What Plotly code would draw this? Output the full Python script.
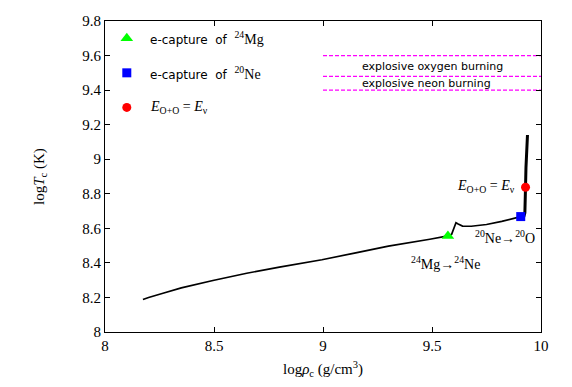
import plotly.graph_objects as go

# Evolution track: log rho_c vs log T_c
track_rho = [8.174, 8.20, 8.266, 8.35, 8.495, 8.65, 8.80, 8.995, 9.15, 9.30, 9.49, 9.573]
track_T = [8.188, 8.200, 8.224, 8.255, 8.298, 8.340, 8.376, 8.418, 8.458, 8.497, 8.537, 8.556]
post_rho = [9.573, 9.590, 9.600, 9.610, 9.620, 9.640, 9.680, 9.750, 9.820, 9.870, 9.907]
post_T = [8.556, 8.565, 8.600, 8.632, 8.625, 8.613, 8.612, 8.622, 8.640, 8.655, 8.668]
vert_rho = [9.907, 9.922, 9.926, 9.928, 9.929, 9.931, 9.934, 9.937, 9.938]
vert_T = [8.668, 8.672, 8.690, 8.740, 8.838, 8.95, 9.03, 9.10, 9.140]

# key events
mg_rho, mg_T = 9.573, 8.556
ne_rho, ne_T = 9.907, 8.668
oo_rho, oo_T = 9.929, 8.838

# explosive burning thresholds
burn_levels = [9.60, 9.48, 9.40]
burn_x = [9.0, 10.0]

x_ticks = [8, 8.5, 9, 9.5, 10]
x_labels = ["8", "8.5", "9", "9.5", "10"]
y_ticks = [8, 8.2, 8.4, 8.6, 8.8, 9, 9.2, 9.4, 9.6, 9.8]
y_labels = ["8", "8.2", "8.4", "8.6", "8.8", "9", "9.2", "9.4", "9.6", "9.8"]

legend_rho = 8.10
legend_T = [9.70, 9.50, 9.30]

SERIF = "Liberation Serif"
SANS = "DejaVu Sans"

fig = go.Figure()

for lvl in burn_levels:
    fig.add_trace(go.Scatter(x=burn_x, y=[lvl, lvl], mode="lines",
                             line=dict(color="#ff00ff", width=1.3, dash="4px,2px"),
                             showlegend=False, hoverinfo="skip"))

fig.add_trace(go.Scatter(x=track_rho + post_rho[1:], y=track_T + post_T[1:], mode="lines",
                         line=dict(color="black", width=1.7), showlegend=False))
fig.add_trace(go.Scatter(x=vert_rho, y=vert_T, mode="lines",
                         line=dict(color="black", width=3), showlegend=False))

fig.add_trace(go.Scatter(x=[mg_rho, legend_rho], y=[mg_T, legend_T[0]], mode="markers",
                         marker=dict(symbol="triangle-up", color="#00ff00", size=11),
                         showlegend=False))
fig.add_trace(go.Scatter(x=[ne_rho, legend_rho], y=[ne_T, legend_T[1]], mode="markers",
                         marker=dict(symbol="square", color="#0000ff", size=9),
                         showlegend=False))
fig.add_trace(go.Scatter(x=[oo_rho, legend_rho], y=[oo_T, legend_T[2]], mode="markers",
                         marker=dict(symbol="circle", color="#ff0000", size=9),
                         showlegend=False))

serif_span = '<span style="font-family:Liberation Serif;font-size:14px">{}</span>'
annotations = [
    dict(x=8.197, y=legend_T[0], xanchor="left",
         text="e-capture  of  " + serif_span.format("<sup>24</sup>Mg"),
         font=dict(family=SANS, size=12)),
    dict(x=8.197, y=legend_T[1], xanchor="left",
         text="e-capture  of  " + serif_span.format("<sup>20</sup>Ne"),
         font=dict(family=SANS, size=12)),
    dict(x=8.197, y=legend_T[2], xanchor="left",
         text="<i>E</i><sub>O+O</sub> = <i>E</i><sub>ν</sub>",
         font=dict(family=SERIF, size=14)),
    dict(x=9.5, y=9.537, xanchor="center", text="explosive oxygen burning",
         font=dict(family=SANS, size=11)),
    dict(x=9.475, y=9.44, xanchor="center", text="explosive neon burning",
         font=dict(family=SANS, size=11)),
    dict(x=9.56, y=8.398, xanchor="center", text="<sup>24</sup>Mg→<sup>24</sup>Ne",
         font=dict(family=SERIF, size=14)),
    dict(x=9.835, y=8.548, xanchor="center", text="<sup>20</sup>Ne→<sup>20</sup>O",
         font=dict(family=SERIF, size=14)),
    dict(x=9.89, y=8.845, xanchor="right",
         text="<i>E</i><sub>O+O</sub> = <i>E</i><sub>ν</sub>",
         font=dict(family=SERIF, size=14)),
]
for a in annotations:
    a.update(xref="x", yref="y", showarrow=False, yanchor="middle")
    a["font"]["color"] = "black"

fig.update_layout(
    width=564, height=379,
    margin=dict(l=97, r=31, t=13, b=55),
    paper_bgcolor="white", plot_bgcolor="white",
    annotations=annotations,
    font=dict(family=SERIF, size=14, color="black"),
    xaxis=dict(range=[8, 10], tickvals=x_ticks, ticktext=x_labels, automargin=False,
               ticks="inside", ticklen=5, tickcolor="black", mirror="ticks",
               showline=True, linecolor="black", linewidth=1, showgrid=False,
               zeroline=False, tickfont=dict(family=SERIF, size=15),
               title=dict(text="log<i>ρ</i><sub>c</sub> (g/cm<sup>3</sup>)",
                          font=dict(family=SERIF, size=15), standoff=10)),
    yaxis=dict(range=[8, 9.8], tickvals=y_ticks, ticktext=y_labels, automargin=False,
               ticks="inside", ticklen=5, tickcolor="black", mirror="ticks",
               showline=True, linecolor="black", linewidth=1, showgrid=False,
               zeroline=False, tickfont=dict(family=SERIF, size=15),
               title=dict(text="log<i>T</i><sub>c</sub> (K)",
                          font=dict(family=SERIF, size=15), standoff=34)),
)

fig.write_html("out.html")
